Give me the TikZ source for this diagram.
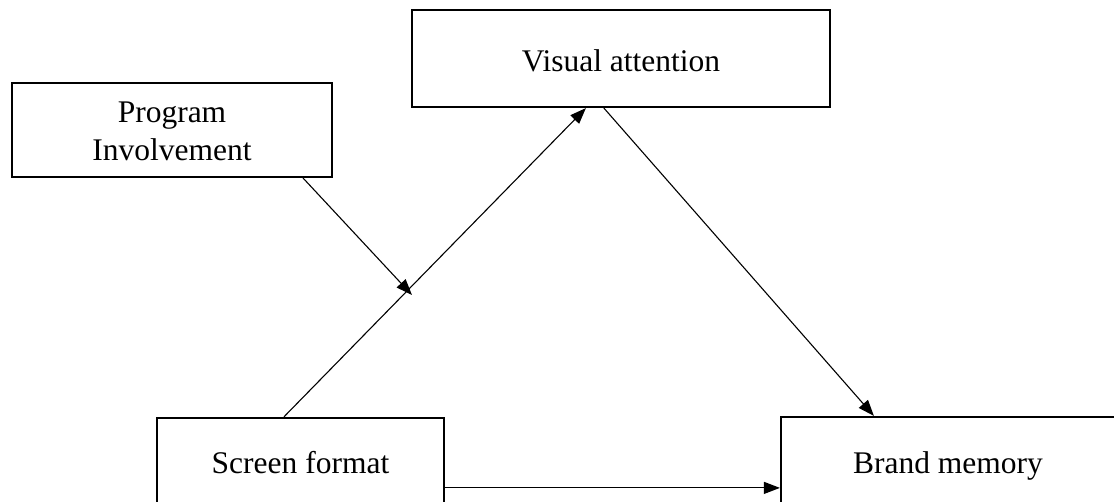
\documentclass[tikz,border=0pt]{standalone}
\usepackage{fontspec}
\setmainfont{Liberation Serif}
\usetikzlibrary{arrows.meta,calc}
\begin{document}
\begin{tikzpicture}[x=1pt,y=-1pt,
  box/.style={draw,line width=2.2pt,fill=white,inner sep=0pt,align=center,
    text depth=0pt,font=\fontsize{31.5}{38}\selectfont},
  link/.style={line width=1.1pt,-{Triangle[length=16pt,width=12pt]}}]
  \useasboundingbox (0,0) rectangle (1114,502);
  % variables
  \node[box,minimum width=418pt,minimum height=97pt,text height=27pt] (va) at (621,58.5) {Visual attention};
  \node[box,minimum width=320pt,minimum height=94pt,text height=62pt] (pi) at (172,130) {Program\\Involvement};
  \node[box,minimum width=287pt,minimum height=92pt,text height=18pt] (sf) at (300.5,464) {Screen format};
  \node[box,minimum width=334pt,minimum height=96pt,text height=16pt] (bm) at (948,465) {Brand memory};
  % moderation point on the screen format -> attention path
  \coordinate (mod) at (412,295);
  \coordinate (sfr) at ($(sf.north east)+(0,71)$);
  % paths
  \draw[link] ($(sf.north west)+(128,0)$) -- ($(va.south west)+(175,0)$);
  \draw[link] ($(va.south west)+(193,0)$) -- ($(bm.north west)+(94,0)$);
  \draw[link] ($(pi.south east)+(-30,0)$) -- (mod);
  \draw[link] (sfr) -- (sfr -| bm.west);
\end{tikzpicture}
\end{document}
